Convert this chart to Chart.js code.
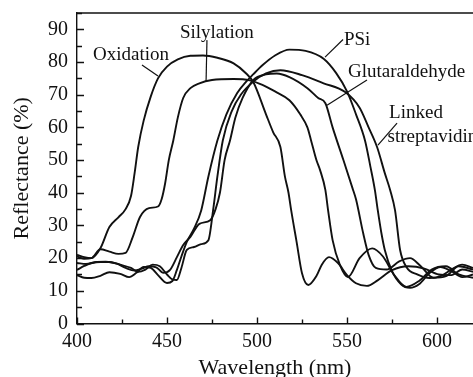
<!DOCTYPE html>
<html>
<head>
<meta charset="utf-8">
<script src="https://cdn.jsdelivr.net/npm/chart.js@4"></script>
<style>
  body { margin: 0; background: #fff; }
  canvas { display: block; }
</style>
</head>
<body>
<canvas id="reflCanvas" width="473" height="377"></canvas>
<script>
// wavelength (nm) / reflectance (%) pairs
const oxidation = [
  [400, 21], [404, 20.3], [408, 20], [413, 23], [418, 29.5], [423, 32.5], [427, 35], [430, 39],
  [432, 46], [434, 54], [437, 62], [441, 69.5], [445, 75], [450, 78.6], [456, 80.8], [463, 81.9],
  [470, 82], [478, 81.3], [487, 79.6], [494, 76.5], [498, 73.8], [505, 64], [509, 58.5], [513, 54],
  [515.5, 45], [517.5, 40], [519, 34.6], [522, 25], [525, 15.4], [528.5, 11.8], [533, 14.5], [536, 18],
  [540, 20.3], [545, 18.5], [550, 14.8], [555, 12.3], [561, 11.5], [567, 13.2], [575, 16.3], [584, 17.5],
  [593, 16.8], [601, 15], [608, 14.8], [614, 16.5], [620, 15.8]
];
const silylation = [
  [400, 20.5], [404, 19.8], [408, 20], [413, 22.7], [418, 22], [423, 21.3], [427, 21.6], [431, 26.5],
  [435, 32.6], [440, 35.3], [445, 35.8], [447, 38], [449, 43], [451, 50], [453.5, 56], [456, 63],
  [459, 69], [463, 72], [468, 73.5], [475, 74.5], [487, 74.8], [496, 74.4], [503, 73], [510, 71],
  [518, 68.3], [524, 64], [528, 60], [530, 56.1], [533, 50], [535, 47], [538, 40.8], [539.5, 34.6],
  [542, 25.5], [546, 18], [550.5, 14.2], [557, 20], [564, 23], [570, 20.5], [576, 15], [583, 11.2],
  [590, 13], [597, 16.5], [605, 17.5], [612, 15], [620, 14]
];
const psi = [
  [400, 14.8], [404, 14], [408, 13.9], [413, 14.6], [418, 15.7], [424, 15.2], [429, 14.2], [433, 15.5],
  [437, 17.3], [441, 17], [445, 14.8], [450, 12.4], [453, 13], [455.5, 16.4], [458, 20.5], [461, 25],
  [465, 29], [469, 34.6], [473, 45], [478, 56], [483, 64], [489, 70.5], [494, 74], [498, 76.3],
  [503, 79], [510, 82], [518, 83.8], [527, 83.4], [537, 81], [544, 76.6], [550, 71], [555, 64],
  [560, 56], [563, 48], [565.5, 40.8], [567, 35], [569, 28], [571, 22.5], [575, 16], [580, 12],
  [585, 10.9], [590, 12], [596, 15.5], [602, 17.3], [608, 16], [614, 14.2], [620, 15]
];
const glutaraldehyde = [
  [400, 18.5], [405, 18.2], [411, 18.8], [416, 18.9], [422, 18.3], [427, 17], [432, 16.2], [436, 16.8],
  [440, 17.5], [444, 17.2], [448, 15.5], [451.7, 16.4], [455.5, 20.3], [459, 24], [463, 26.5], [468, 30.5],
  [474, 31.6], [477, 35], [479.4, 40], [482, 50], [485, 56], [488, 63], [492, 69], [498, 74.5],
  [505, 76.2], [511, 76.5], [518, 75.4], [528, 72], [534, 69], [538, 67.4], [542, 60], [548, 50],
  [553, 41.5], [555, 38], [559, 27.6], [562, 21], [566, 17], [572, 16.5], [579, 19], [585, 20],
  [591, 17.5], [598, 14], [605, 14.5], [612, 17.5], [620, 16.5]
];
const linkedStrep = [
  [400, 16.4], [404, 17.6], [408, 18.5], [413, 18.8], [418, 18.8], [424, 18], [430, 17], [434, 15.8],
  [438, 16.5], [442, 18], [446, 17.5], [450, 15], [453, 13.5], [455.5, 13.3], [458, 17], [461, 22.5],
  [465, 23.4], [469, 24.3], [473, 25.5], [475.6, 34.6], [478, 45], [481, 56], [486, 65], [491, 70],
  [498, 74], [505, 76.5], [513, 77.5], [525, 76], [537, 73.5], [549, 70.8], [557, 66], [562, 60],
  [566.7, 54], [571, 46], [574, 40.8], [576.7, 34.6], [579.5, 22.5], [583, 17.3], [589, 15], [596, 13.9],
  [602, 14.5], [608, 16.5], [614, 18], [620, 17]
];

const seriesNames = ['Oxidation', 'Silylation', 'PSi', 'Glutaraldehyde', 'Linked streptavidin'];
const seriesData = [oxidation, silylation, psi, glutaraldehyde, linkedStrep];

const xTicks = [400, 450, 500, 550, 600];
const yTicks = [0, 10, 20, 30, 40, 50, 60, 70, 80, 90];

const serif = "'Liberation Serif', 'DejaVu Serif', serif";

// curve labels with leader lines, in data units
const callouts = [
  { lines: ['Oxidation'], x: 408.9, y: 82.1, from: [436.1, 79.1], to: [445, 75.7] },
  { lines: ['Silylation'], x: 457.2, y: 88.9, from: [472.2, 86.7], to: [471.7, 73.9] },
  { lines: ['PSi'], x: 548.3, y: 86.7, from: [547.8, 86.9], to: [537.8, 81.5] },
  { lines: ['Glutaraldehyde'], x: 550.6, y: 76.9, from: [561.1, 74.5], to: [538.9, 66.8] },
  { lines: ['Linked', 'streptavidin'], x: 573.4, y: 64.4, from: [577.8, 61.3], to: [567.2, 54.6] }
];

const frameAndLabels = {
  id: 'frameAndLabels',
  afterDraw(chart) {
    const { ctx, chartArea, scales } = chart;
    const xs = scales.x;
    const ys = scales.y;
    ctx.save();
    ctx.strokeStyle = '#111';
    ctx.lineWidth = 1.4;

    // top border
    ctx.beginPath();
    ctx.moveTo(chartArea.left, chartArea.top);
    ctx.lineTo(chartArea.right, chartArea.top);
    ctx.stroke();

    // inward ticks
    ctx.beginPath();
    for (let v = 0; v <= 95; v += 5) {
      const py = Math.round(ys.getPixelForValue(v)) + 0.5;
      const len = v % 10 === 0 ? 7 : 5;
      ctx.moveTo(chartArea.left, py);
      ctx.lineTo(chartArea.left + len, py);
    }
    for (let v = 400; v <= 620; v += 25) {
      const px = Math.round(xs.getPixelForValue(v)) + 0.5;
      const len = v % 50 === 0 ? 6 : 4;
      ctx.moveTo(px, chartArea.bottom);
      ctx.lineTo(px, chartArea.bottom - len);
    }
    ctx.stroke();

    // labels
    ctx.fillStyle = '#111';
    ctx.font = '19px ' + serif;
    ctx.textAlign = 'left';
    ctx.textBaseline = 'middle';
    ctx.lineWidth = 1.2;
    callouts.forEach((c) => {
      const lx = xs.getPixelForValue(c.x);
      const ly = ys.getPixelForValue(c.y);
      c.lines.forEach((t, i) => ctx.fillText(t, lx + (i ? -1.5 : 0), ly + i * 24));
      ctx.beginPath();
      ctx.moveTo(xs.getPixelForValue(c.from[0]), ys.getPixelForValue(c.from[1]));
      ctx.lineTo(xs.getPixelForValue(c.to[0]), ys.getPixelForValue(c.to[1]));
      ctx.stroke();
    });
    ctx.restore();
  }
};

const ctx = document.getElementById('reflCanvas');
new Chart(ctx, {
  type: 'line',
  data: {
    datasets: seriesData.map((pts, i) => ({
      label: seriesNames[i],
      data: pts.map(([x, y]) => ({ x, y })),
      borderColor: '#111',
      borderWidth: 1.9,
      pointRadius: 0,
      fill: false,
      cubicInterpolationMode: 'monotone'
    }))
  },
  options: {
    responsive: false,
    devicePixelRatio: 1,
    animation: false,
    layout: { padding: { top: 13, right: 0, bottom: 0, left: 0 } },
    plugins: {
      legend: { display: false },
      tooltip: { enabled: false }
    },
    scales: {
      x: {
        type: 'linear',
        min: 400,
        max: 620,
        afterFit: (scale) => {
          scale.height = 53.5;
          scale.paddingLeft = 0;
          scale.paddingRight = 0;
        },
        afterBuildTicks: (scale) => { scale.ticks = xTicks.map((v) => ({ value: v })); },
        grid: { display: true, drawOnChartArea: false, drawTicks: false },
        border: { display: true, color: '#111', width: 1.4 },
        ticks: {
          padding: 6,
          color: '#111',
          font: { family: serif, size: 20 },
          maxRotation: 0
        },
        title: {
          display: true,
          text: 'Wavelength (nm)',
          color: '#111',
          font: { family: serif, size: 22 },
          padding: { top: 0, bottom: -4 }
        }
      },
      y: {
        type: 'linear',
        min: 0,
        max: 95,
        afterFit: (scale) => {
          scale.width = 77;
          scale.paddingTop = 0;
          scale.paddingBottom = 0;
        },
        afterBuildTicks: (scale) => { scale.ticks = yTicks.map((v) => ({ value: v })); },
        grid: { display: true, drawOnChartArea: false, drawTicks: false },
        border: { display: true, color: '#111', width: 1.4 },
        ticks: {
          padding: 9,
          color: '#111',
          font: { family: serif, size: 20 }
        },
        title: {
          display: true,
          text: 'Reflectance (%)',
          color: '#111',
          font: { family: serif, size: 22 },
          padding: { top: 9, bottom: 0 }
        }
      }
    }
  },
  plugins: [frameAndLabels]
});
</script>
</body>
</html>
